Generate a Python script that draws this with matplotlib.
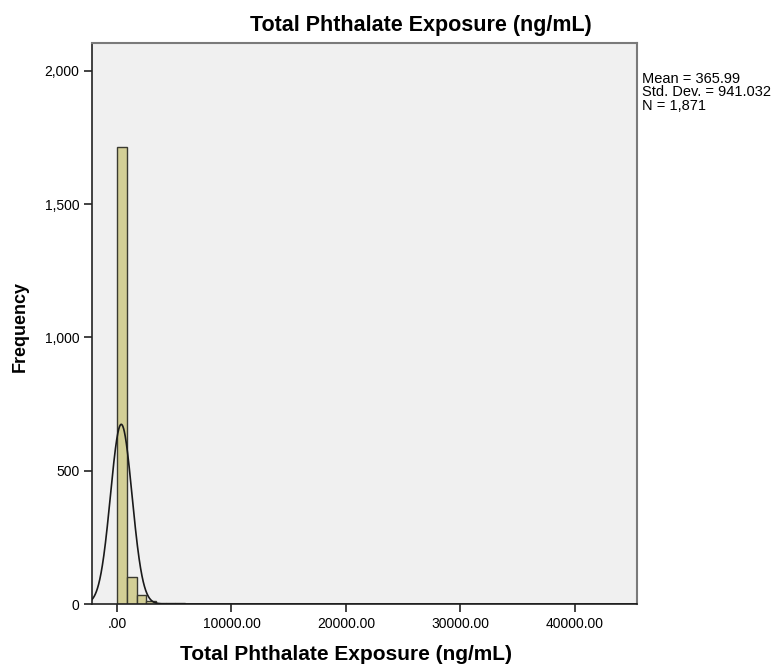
import numpy as np
import matplotlib
matplotlib.use("Agg")
import matplotlib.pyplot as plt

# ---- data ----
title = "Total Phthalate Exposure (ng/mL)"
x_label = "Total Phthalate Exposure (ng/mL)"
y_label = "Frequency"
bin_width = 850.0
bin_start = 0.0
counts = [1713, 100, 33, 12, 5, 3, 2, 1, 1, 0,
          0, 0, 0, 0, 0, 0, 0, 0, 0, 0,
          0, 0, 0, 0, 0, 0, 0, 0, 0, 0,
          0, 0, 0, 0, 0, 0, 0, 0, 0, 0,
          0, 0, 0, 0, 0, 0, 0, 0, 1, 0]
mean_val = 365.99
sd_val = 941.032
n_val = 1871
x_ticks = [0, 10000, 20000, 30000, 40000]
x_tick_labels = [".00", "10000.00", "20000.00", "30000.00", "40000.00"]
y_ticks = [0, 500, 1000, 1500, 2000]
y_tick_labels = ["0", "500", "1,000", "1,500", "2,000"]
stats_text = "Mean = 365.99\nStd. Dev. = 941.032\nN = 1,871"

plt.rcParams['font.family'] = ['Liberation Sans', 'DejaVu Sans']

W, H = 781, 668
fig = plt.figure(figsize=(W / 100, H / 100), dpi=100)
left, right, top, bottom = 92, 637, 43, 604
ax = fig.add_axes([left / W, 1 - bottom / H, (right - left) / W, (bottom - top) / H])
ax.set_facecolor("#f0f0f0")

counts_arr = np.array(counts, dtype=float)
edges = bin_start + bin_width * np.arange(len(counts_arr))
mask = counts_arr > 0
ax.bar(edges[mask], counts_arr[mask], width=bin_width, align="edge",
       color="#d3cf96", edgecolor="#3a3a30", linewidth=1.0, zorder=2)

xmin, xmax = -2190, 45450
xs = np.linspace(xmin, xmax, 3000)
ys = n_val * bin_width / (sd_val * np.sqrt(2 * np.pi)) * np.exp(-0.5 * ((xs - mean_val) / sd_val) ** 2)
ax.plot(xs, ys, color="#1a1a1a", linewidth=1.2, zorder=3)

ax.set_xlim(xmin, xmax)
ax.set_ylim(0, (bottom - top) / 133.25 * 500)
ax.set_xticks(x_ticks)
ax.set_xticklabels(x_tick_labels, fontsize=10)
ax.set_yticks(y_ticks)
ax.set_yticklabels(y_tick_labels, fontsize=10)
ax.tick_params(direction="out", length=6, width=1.2, color="#222222", pad=3)

for s in ["top", "right"]:
    ax.spines[s].set_color("#7a7a7a")
    ax.spines[s].set_linewidth(1.5)
for s in ["left", "bottom"]:
    ax.spines[s].set_color("#222222")
    ax.spines[s].set_linewidth(1.2)

fig.text(421 / W, 1 - 25 / H, title, ha="center", va="center", fontsize=15.5, fontweight="bold")
fig.text(346 / W, 1 - 655 / H, x_label, ha="center", va="center", fontsize=15, fontweight="bold")
fig.text(20 / W, 1 - 327 / H, y_label, ha="center", va="center", rotation=90, fontsize=13, fontweight="bold")
fig.text(642 / W, 1 - 72 / H, stats_text, ha="left", va="top", fontsize=10.5, linespacing=0.95)

fig.savefig("out.png", dpi=100, facecolor="white")
